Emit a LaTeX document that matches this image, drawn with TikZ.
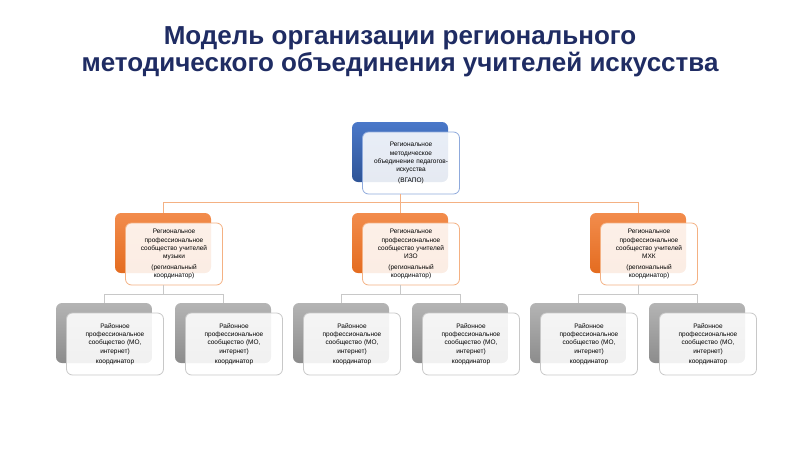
\documentclass[tikz,border=0pt]{standalone}
\usepackage{fontspec}
\setmainfont{Liberation Sans}

\definecolor{titlecol}{RGB}{31,44,99}
\definecolor{bluetop}{RGB}{74,120,201}
\definecolor{bluebot}{RGB}{47,84,150}
\definecolor{blueedge}{RGB}{143,170,220}
\definecolor{orangetop}{RGB}{242,140,76}
\definecolor{orangebot}{RGB}{228,108,32}
\definecolor{orangeedge}{RGB}{244,177,131}
\definecolor{graytop}{RGB}{180,180,180}
\definecolor{graybot}{RGB}{140,140,140}
\definecolor{grayedge}{RGB}{200,200,200}

\begin{document}
\begin{tikzpicture}[x=1pt,y=-1pt,
    back/.style={rounded corners=6pt,minimum width=96pt,minimum height=60pt,inner sep=0pt},
    front/.style={draw,rounded corners=6pt,fill=white,fill opacity=0.88,text opacity=1,
        minimum width=97pt,minimum height=62pt,text width=92pt,align=center,inner sep=0pt,
        line width=0.8pt,font=\fontsize{6.5}{8.3}\selectfont},
    blueback/.style={back,top color=bluetop,bottom color=bluebot},
    orangeback/.style={back,top color=orangetop,bottom color=orangebot},
    grayback/.style={back,top color=graytop,bottom color=graybot},
    oline/.style={draw=orangeedge,line width=0.9pt},
    gline/.style={draw=grayedge,line width=0.9pt}]

    % パラメータの定義
    \pgfmathsetmacro{\dx}{11}
    \pgfmathsetmacro{\dy}{11}

    \useasboundingbox (0,0) rectangle (800,450);

    % タイトル
    \node[font=\fontsize{26}{27}\selectfont\bfseries,text=titlecol,align=center] (T) at (400,52)
        {Модель организации регионального\\методического объединения учителей искусства};

    % 上段の箱
    \node[blueback] (C) at (400,152) {};
    \node[front,draw=blueedge] (Ct) at ([shift={(\dx,\dy)}]C)
        {Региональное\\методическое\\объединение педагогов-\\искусства\\[2pt](ВГАПО)};

    % 中段の箱
    \node[orangeback] (M) at (163,243) {};
    \node[front,draw=orangeedge] (Mt) at ([shift={(\dx,\dy)}]M)
        {Региональное\\профессиональное\\сообщество учителей\\музыки\\[2pt](региональный\\координатор)};
    \node[orangeback] (I) at (400,243) {};
    \node[front,draw=orangeedge] (It) at ([shift={(\dx,\dy)}]I)
        {Региональное\\профессиональное\\сообщество учителей\\ИЗО\\[2pt](региональный\\координатор)};
    \node[orangeback] (K) at (638,243) {};
    \node[front,draw=orangeedge] (Kt) at ([shift={(\dx,\dy)}]K)
        {Региональное\\профессиональное\\сообщество учителей\\МХК\\[2pt](региональный\\координатор)};

    % 下段の箱
    \node[grayback] (M1) at (104,333) {};
    \node[front,draw=grayedge] (M1t) at ([shift={(\dx,\dy)}]M1)
        {Районное\\профессиональное\\сообщество (МО,\\интернет)\\[2pt]координатор};
    \node[grayback] (M2) at (223,333) {};
    \node[front,draw=grayedge] (M2t) at ([shift={(\dx,\dy)}]M2)
        {Районное\\профессиональное\\сообщество (МО,\\интернет)\\[2pt]координатор};
    \node[grayback] (I1) at (341,333) {};
    \node[front,draw=grayedge] (I1t) at ([shift={(\dx,\dy)}]I1)
        {Районное\\профессиональное\\сообщество (МО,\\интернет)\\[2pt]координатор};
    \node[grayback] (I2) at (460,333) {};
    \node[front,draw=grayedge] (I2t) at ([shift={(\dx,\dy)}]I2)
        {Районное\\профессиональное\\сообщество (МО,\\интернет)\\[2pt]координатор};
    \node[grayback] (K1) at (578,333) {};
    \node[front,draw=grayedge] (K1t) at ([shift={(\dx,\dy)}]K1)
        {Районное\\профессиональное\\сообщество (МО,\\интернет)\\[2pt]координатор};
    \node[grayback] (K2) at (697,333) {};
    \node[front,draw=grayedge] (K2t) at ([shift={(\dx,\dy)}]K2)
        {Районное\\профессиональное\\сообщество (МО,\\интернет)\\[2pt]координатор};

    % 線の描画
    \draw[oline] (C.south |- Ct.south) -- ++(0,8) -| (M.north);
    \draw[oline] (C.south |- Ct.south) -- ++(0,8) -| (K.north);
    \draw[oline] (C.south |- Ct.south) -- (I.north);

    \draw[gline] (M.south |- Mt.south) -- ++(0,9) -| (M1.north);
    \draw[gline] (M.south |- Mt.south) -- ++(0,9) -| (M2.north);
    \draw[gline] (I.south |- It.south) -- ++(0,9) -| (I1.north);
    \draw[gline] (I.south |- It.south) -- ++(0,9) -| (I2.north);
    \draw[gline] (K.south |- Kt.south) -- ++(0,9) -| (K1.north);
    \draw[gline] (K.south |- Kt.south) -- ++(0,9) -| (K2.north);

\end{tikzpicture}
\end{document}
